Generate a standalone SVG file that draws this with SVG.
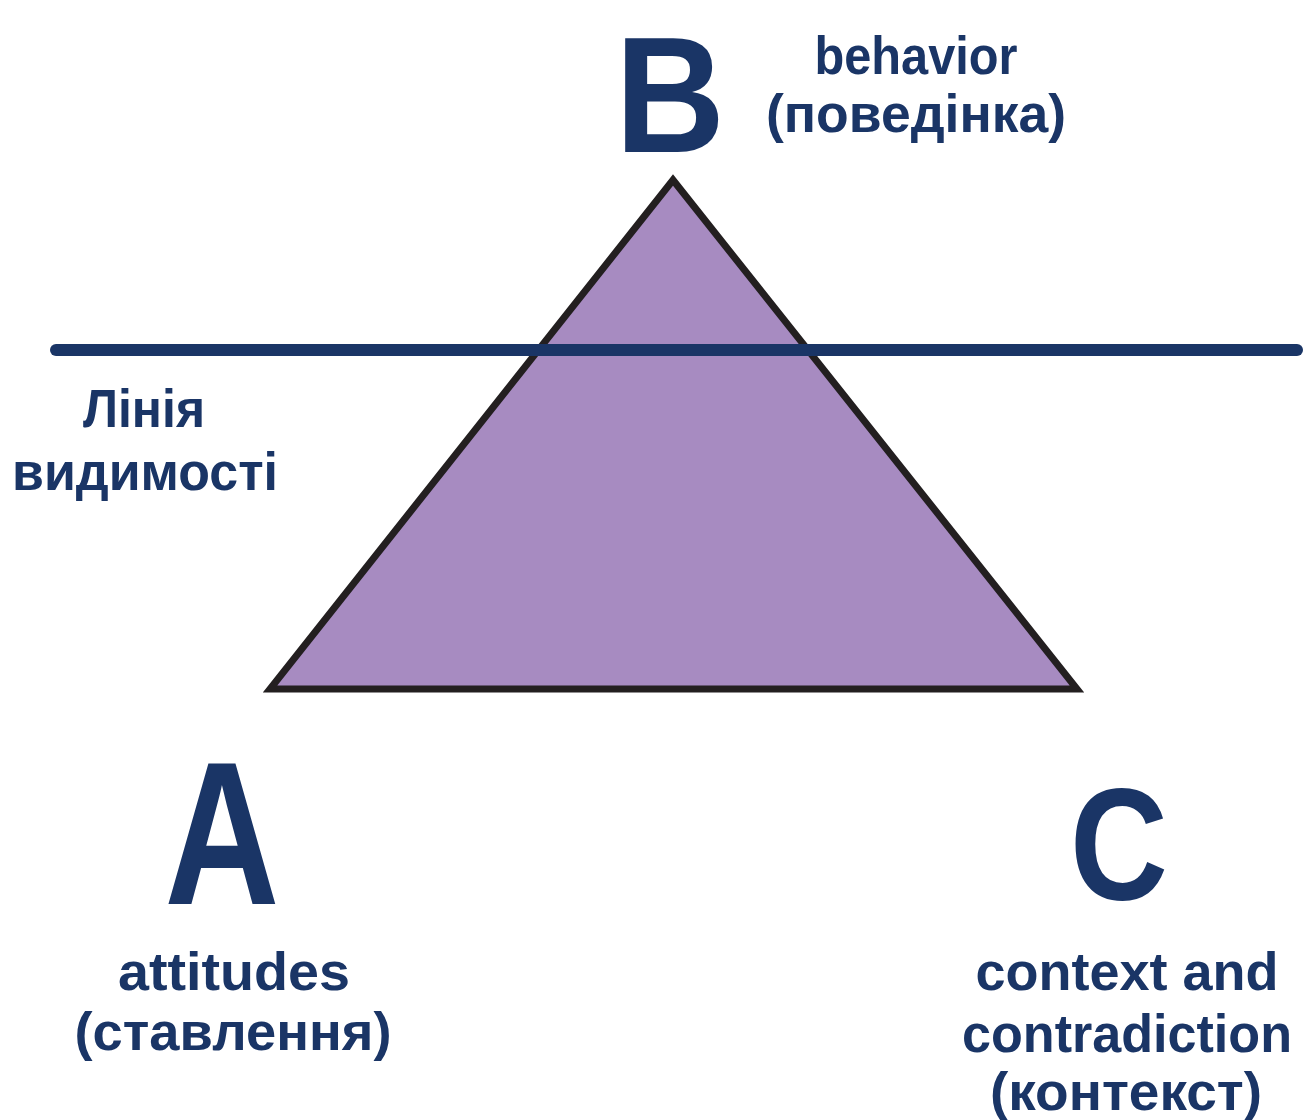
<svg xmlns="http://www.w3.org/2000/svg" width="1305" height="1120" viewBox="0 0 1305 1120">
<style>
.lbl{font-family:"Liberation Sans","DejaVu Sans",sans-serif;font-weight:bold;fill:#1a3566;font-size:54px;text-anchor:middle}
.big{font-family:"Liberation Sans","DejaVu Sans",sans-serif;font-weight:bold;fill:#1a3566;text-anchor:middle}
</style>
<rect width="1305" height="1120" fill="#ffffff"/>
<g id="triangle">
<polygon points="673,180 270,689 1077,689" fill="#a78bc1" stroke="#231f20" stroke-width="7" stroke-linejoin="miter"/>
</g>
<g id="connectors">
<line x1="56" y1="350" x2="1297" y2="350" stroke="#1a3566" stroke-width="12" stroke-linecap="round"/>
</g>
<g id="node-B">
<text class="big" x="670" y="152" font-size="166" textLength="110" lengthAdjust="spacingAndGlyphs">B</text>
<text class="lbl" x="916" y="74" textLength="203" lengthAdjust="spacingAndGlyphs">behavior</text>
<text class="lbl" x="916" y="132" textLength="300" lengthAdjust="spacingAndGlyphs">(поведінка)</text>
</g>
<g id="node-line-label">
<text class="lbl" x="144" y="427" textLength="122" lengthAdjust="spacingAndGlyphs">Лінія</text>
<text class="lbl" x="145" y="490" textLength="266" lengthAdjust="spacingAndGlyphs">видимості</text>
</g>
<g id="node-A">
<text class="big" x="222" y="904" font-size="205" textLength="115" lengthAdjust="spacingAndGlyphs">A</text>
<text class="lbl" x="234" y="990" textLength="232" lengthAdjust="spacingAndGlyphs">attitudes</text>
<text class="lbl" x="233" y="1050" textLength="317" lengthAdjust="spacingAndGlyphs">(ставлення)</text>
</g>
<g id="node-C">
<text class="big" x="1119" y="899" font-size="160" textLength="98" lengthAdjust="spacingAndGlyphs">C</text>
<text class="lbl" x="1127" y="990" textLength="303" lengthAdjust="spacingAndGlyphs">context and</text>
<text class="lbl" x="1127" y="1052" textLength="330" lengthAdjust="spacingAndGlyphs">contradiction</text>
<text class="lbl" x="1126" y="1110" textLength="272" lengthAdjust="spacingAndGlyphs">(контекст)</text>
</g>
</svg>
